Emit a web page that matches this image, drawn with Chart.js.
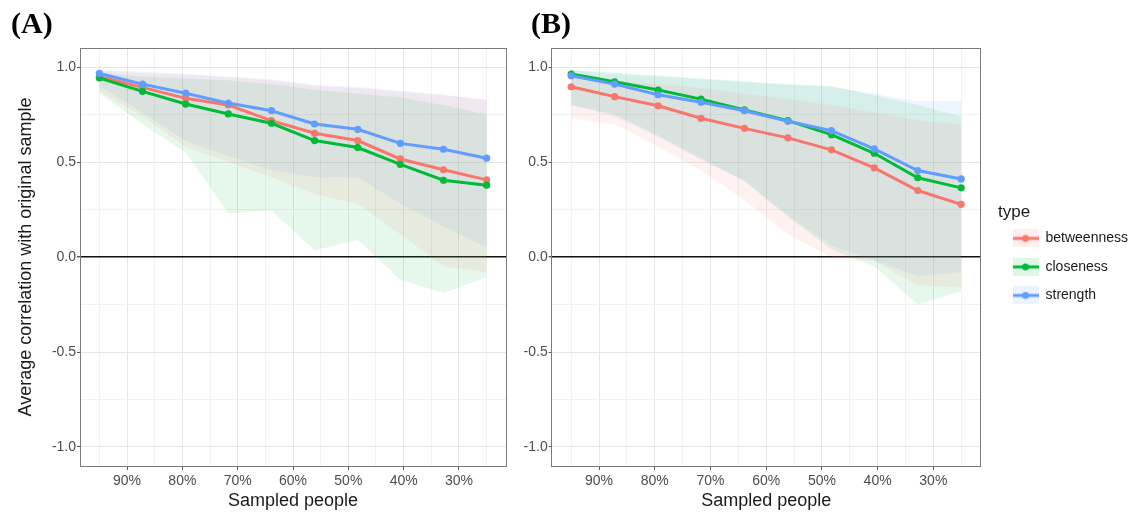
<!DOCTYPE html>
<html>
<head>
<meta charset="utf-8">
<script src="https://cdn.jsdelivr.net/npm/chart.js@4.4.1/dist/chart.umd.min.js"></script>
<style>
  html, body { margin: 0; padding: 0; background: #fff; overflow: hidden; }
  canvas { position: absolute; top: 0; }
  #chartA { left: 0; }
  #chartB { left: 516px; }
  .panel-tag {
    position: absolute; top: 6px; height: 36px; line-height: 36px;
    font: bold 30px 'Liberation Serif', 'Times New Roman', serif; color: #000;
  }
</style>
</head>
<body>
<canvas id="chartA" width="510" height="513"></canvas>
<canvas id="chartB" width="615" height="513"></canvas>
<div class="panel-tag" style="left:11px">(A)</div>
<div class="panel-tag" style="left:531px">(B)</div>
<script>
/******************* Data *******************/
const sampled = [95, 87.2, 79.4, 71.7, 63.9, 56.1, 48.3, 40.6, 32.8, 25];
const typeNames = ['betweenness', 'closeness', 'strength'];
const typeColors = ['#F8766D', '#00BA38', '#619CFF'];
const xTickValues = [25, 30, 35, 40, 45, 50, 55, 60, 65, 70, 75, 80, 85, 90, 95];
const yTickValues = [-1, -0.75, -0.5, -0.25, 0, 0.25, 0.5, 0.75, 1];

// panel (A)
const aBetweenness = [0.95, 0.893, 0.835, 0.80, 0.718, 0.651, 0.613, 0.516, 0.459, 0.406];
const aCloseness   = [0.942, 0.872, 0.805, 0.753, 0.704, 0.613, 0.576, 0.487, 0.404, 0.378];
const aStrength    = [0.966, 0.91, 0.862, 0.81, 0.77, 0.70, 0.672, 0.598, 0.567, 0.52];
const aBetweennessLow  = [0.87, 0.74, 0.58, 0.50, 0.42, 0.33, 0.28, 0.12, -0.05, -0.08];
const aBetweennessHigh = [0.98, 0.97, 0.96, 0.945, 0.93, 0.90, 0.89, 0.87, 0.85, 0.83];
const aClosenessLow    = [0.86, 0.70, 0.55, 0.23, 0.245, 0.035, 0.09, -0.12, -0.19, -0.105];
const aClosenessHigh   = [0.97, 0.95, 0.94, 0.93, 0.91, 0.88, 0.86, 0.84, 0.80, 0.75];
const aStrengthLow     = [0.90, 0.76, 0.61, 0.53, 0.455, 0.42, 0.42, 0.28, 0.16, 0.05];
const aStrengthHigh    = [0.985, 0.975, 0.965, 0.95, 0.935, 0.905, 0.895, 0.875, 0.855, 0.825];

// panel (B)
const bBetweenness = [0.896, 0.844, 0.796, 0.73, 0.677, 0.627, 0.564, 0.469, 0.35, 0.277];
const bCloseness   = [0.963, 0.922, 0.879, 0.831, 0.774, 0.718, 0.644, 0.546, 0.417, 0.364];
const bStrength    = [0.954, 0.91, 0.854, 0.814, 0.77, 0.714, 0.665, 0.569, 0.455, 0.411];
const bBetweennessLow  = [0.73, 0.70, 0.58, 0.455, 0.30, 0.12, 0.0, -0.02, -0.15, -0.16];
const bBetweennessHigh = [0.95, 0.93, 0.91, 0.89, 0.86, 0.83, 0.80, 0.76, 0.72, 0.70];
const bClosenessLow    = [0.80, 0.75, 0.64, 0.52, 0.40, 0.21, 0.04, -0.05, -0.25, -0.18];
const bClosenessHigh   = [0.985, 0.97, 0.955, 0.94, 0.925, 0.91, 0.90, 0.85, 0.80, 0.74];
const bStrengthLow     = [0.80, 0.74, 0.63, 0.51, 0.40, 0.22, 0.06, -0.02, -0.10, -0.08];
const bStrengthHigh    = [0.98, 0.965, 0.95, 0.935, 0.92, 0.905, 0.895, 0.86, 0.82, 0.82];

/******************* Helpers *******************/
Chart.defaults.font.family = "'Liberation Sans', Arial, sans-serif";

const fade = (hex, a) => {
    const n = parseInt(hex.slice(1), 16);
    return 'rgba(' + (n >> 16) + ',' + ((n >> 8) & 255) + ',' + (n & 255) + ',' + a + ')';
};
const toPoints = arr => arr.map((v, i) => ({x: sampled[i], y: v}));
const isHalf = v => Math.abs(v * 2 - Math.round(v * 2)) < 1e-9;

// little line+dot key on a tinted square, like the ggplot legend
const makeKey = color => {
    let c = document.createElement('canvas');
    c.width = 26; c.height = 18;
    let g = c.getContext('2d');
    g.fillStyle = fade(color, 0.12);
    g.fillRect(0, 0, 26, 18);
    g.strokeStyle = color; g.lineWidth = 3;
    g.beginPath(); g.moveTo(0, 9); g.lineTo(26, 9); g.stroke();
    g.fillStyle = color;
    g.beginPath(); g.arc(13, 9, 3.5, 0, Math.PI * 2); g.fill();
    return c;
};
const keyIcons = typeColors.map(makeKey);

/******************* Panel builder *******************/
const buildPanel = (id, p) => {
    let datasets = [];
    typeNames.forEach((t, i) => {
        datasets.push({label: t + ' low', data: toPoints(p.low[i]), borderWidth: 0, pointRadius: 0, fill: false, order: 10});
        datasets.push({label: t + ' high', data: toPoints(p.high[i]), borderWidth: 0, pointRadius: 0,
            fill: '-1', backgroundColor: fade(typeColors[i], 0.1), order: 10});
    });
    typeNames.forEach((t, i) => {
        datasets.push({label: t, data: toPoints(p.mean[i]), borderColor: typeColors[i], backgroundColor: typeColors[i],
            borderWidth: 3, pointRadius: 3.6, pointBorderWidth: 0, fill: false, tension: 0, order: 3 - i});
    });

    return new Chart(document.getElementById(id), {
        type: 'line',
        data: {datasets: datasets},
        options: {
            responsive: false,
            animation: false,
            events: [],
            layout: {padding: {left: 0, right: p.padRight, top: 48, bottom: 0}},
            scales: {
                x: {
                    type: 'linear', reverse: true, min: 21.5, max: 98.5, bounds: 'data',
                    afterBuildTicks: s => { s.ticks = xTickValues.map(v => ({value: v})); },
                    afterFit: s => { s.height = 47; },
                    ticks: {autoSkip: false, maxRotation: 0, padding: 3, color: '#4d4d4d', font: {size: 14},
                        callback: v => (v % 10 === 0 ? v + '%' : '')},
                    grid: {
                        color: c => (c.tick && c.tick.value % 10 === 0 ? '#e6e6e6' : '#f1f1f1'),
                        tickLength: 4,
                        tickColor: c => (c.tick && c.tick.value % 10 === 0 ? '#555' : 'rgba(0,0,0,0)')
                    },
                    border: {color: '#7a7a7a', width: 1},
                    title: {display: true, text: 'Sampled people', color: '#1a1a1a', font: {size: 18}, padding: {top: 0, bottom: 1}}
                },
                x2: {
                    position: 'top', display: true,
                    grid: {display: false, drawTicks: false}, ticks: {display: false},
                    border: {color: '#7a7a7a', width: 1},
                    afterFit: s => { s.height = 0; }
                },
                y: {
                    min: -1.1, max: 1.1, bounds: 'data',
                    afterBuildTicks: s => { s.ticks = yTickValues.map(v => ({value: v})); },
                    afterFit: s => { s.width = p.yWidth; },
                    ticks: {autoSkip: false, padding: 1, color: '#4d4d4d', font: {size: 14},
                        callback: v => (isHalf(v) ? v.toFixed(1) : '')},
                    grid: {
                        color: c => {
                            if (!c.tick) return '#e6e6e6';
                            if (c.tick.value === 0) return '#111';
                            return isHalf(c.tick.value) ? '#e6e6e6' : '#f1f1f1';
                        },
                        lineWidth: c => (c.tick && c.tick.value === 0 ? 1.4 : 1),
                        tickLength: 3,
                        tickColor: c => (c.tick && isHalf(c.tick.value) ? '#555' : 'rgba(0,0,0,0)')
                    },
                    border: {color: '#7a7a7a', width: 1},
                    title: {display: p.yTitle, text: 'Average correlation with original sample', color: '#1a1a1a',
                        font: {size: 18}, padding: {top: 15, bottom: 0}}
                },
                y2: {
                    position: 'right', display: true,
                    grid: {display: false, drawTicks: false}, ticks: {display: false},
                    border: {color: '#7a7a7a', width: 1},
                    afterFit: s => { s.width = p.gap; }
                }
            },
            plugins: {
                tooltip: {enabled: false},
                legend: {
                    display: p.legend,
                    position: 'right', align: 'start', fullSize: true, maxWidth: 133,
                    title: {display: true, text: 'type', position: 'start', color: '#1a1a1a',
                        font: {size: 17}, padding: {top: 155.5, bottom: -7}},
                    labels: {
                        usePointStyle: true, pointStyleWidth: 26, padding: 14.5,
                        color: '#1a1a1a', font: {size: 14},
                        filter: item => item.datasetIndex >= 6,
                        sort: (a, b) => a.datasetIndex - b.datasetIndex,
                        generateLabels: chart => Chart.defaults.plugins.legend.labels.generateLabels(chart).map(item => {
                            if (item.datasetIndex >= 6) item.pointStyle = keyIcons[item.datasetIndex - 6];
                            return item;
                        })
                    }
                }
            }
        }
    });
};

buildPanel('chartA', {
    mean: [aBetweenness, aCloseness, aStrength],
    low: [aBetweennessLow, aClosenessLow, aStrengthLow],
    high: [aBetweennessHigh, aClosenessHigh, aStrengthHigh],
    yTitle: true, yWidth: 80, gap: 0, padRight: 2, legend: false
});

buildPanel('chartB', {
    mean: [bBetweenness, bCloseness, bStrength],
    low: [bBetweennessLow, bClosenessLow, bStrengthLow],
    high: [bBetweennessHigh, bClosenessHigh, bStrengthHigh],
    yTitle: false, yWidth: 35.7, gap: 17.3, padRight: 0, legend: true
});
</script>
</body>
</html>
